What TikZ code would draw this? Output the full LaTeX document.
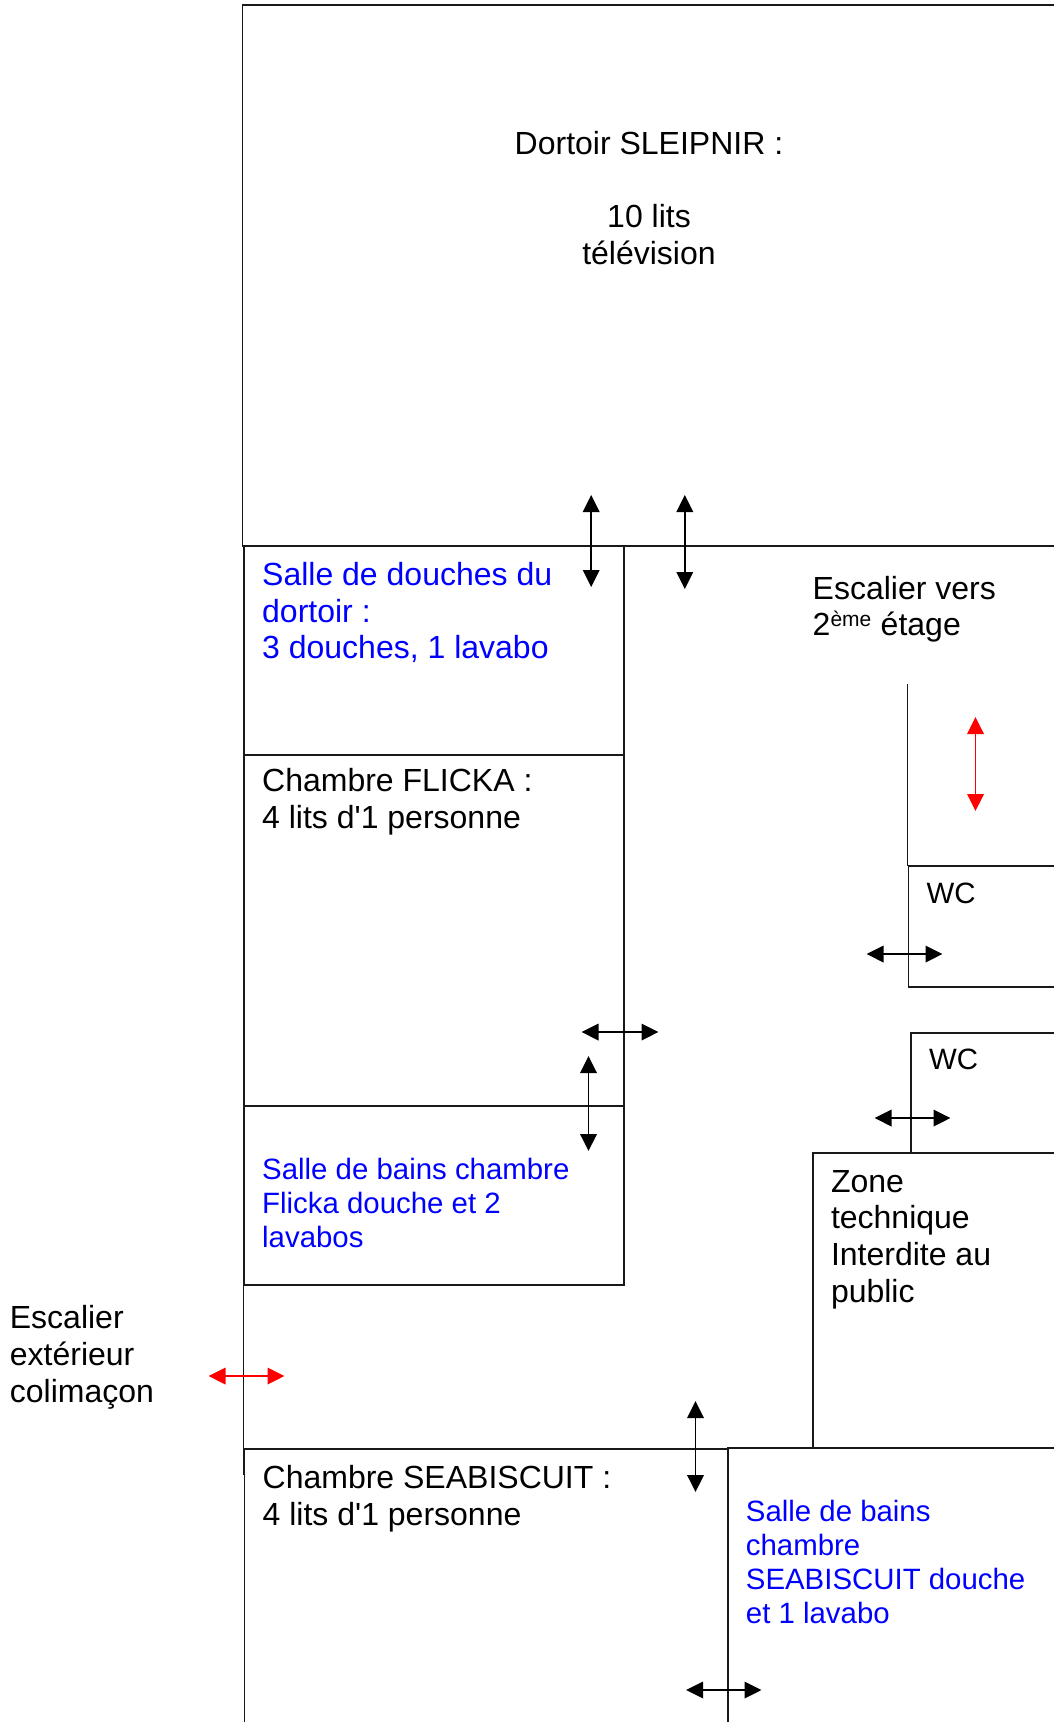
\documentclass[tikz,border=0pt]{standalone}
\usepackage{fontspec}
\setmainfont{Liberation Sans}[Ligatures=TeXOff]
\usetikzlibrary{arrows.meta}
\definecolor{blueT}{RGB}{0,0,255}
\definecolor{redA}{RGB}{255,0,0}
\newcommand{\Tstrut}{\rule{0pt}{30pt}}
\tikzset{
  x=1pt,y=-1pt,
  wall/.style={draw=black!90,line width=1.4pt},
  big/.style={anchor=north west,inner sep=0pt,align=left,font=\fontsize{32}{36.6}\selectfont,text=black},
  bigblue/.style={big,text=blueT},
  small/.style={anchor=north west,inner sep=0pt,align=left,font=\fontsize{29.4}{34}\selectfont,text=black},
  smallblue/.style={small,text=blueT},
  door/.style={line width=1.9pt,draw=black,{Triangle[length=17pt,width=16.5pt]}-{Triangle[length=17pt,width=16.5pt]}},
  reddoor/.style={line width=1.9pt,draw=redA,{Triangle[length=17pt,width=16.5pt]}-{Triangle[length=17pt,width=16.5pt]}}
}
\begin{document}
\begin{tikzpicture}
\useasboundingbox (0,0) rectangle (1053,1722);
\begin{scope}[xshift=0.9pt]
% walls
\draw[wall] (1060,5) -- (241.8,5) -- (241.8,546) -- (1060,546);
\draw[wall] (243,546) -- (243,1285) -- (623,1285) -- (623,546);
\draw[wall] (243,755) -- (623,755);
\draw[wall] (243,1106) -- (623,1106);
\draw[wall] (242.7,1276) -- (242.7,1475);
\draw[wall] (243.7,1730) -- (243.7,1449) -- (727,1449);
\draw[wall] (727,1730) -- (727,1448) -- (1060,1448);
\draw[wall] (812,1448) -- (812,1153) -- (1060,1153);
\draw[wall] (910,1153) -- (910,1033) -- (1060,1033);
\draw[wall] (1060,866) -- (907.5,866) -- (907.5,987) -- (1060,987);
\draw[wall] (906.7,684) -- (906.7,866);
\end{scope}
% texts
\node[big,anchor=north,align=center] (dortoir) at (649,124) {\Tstrut Dortoir SLEIPNIR :\\[36.6pt]10 lits\\télévision};
\node[bigblue] (douches) at (262,555.3) {\Tstrut Salle de douches du\\dortoir :\\3 douches, 1 lavabo};
\node[big] (escalier) at (812.5,569) {\Tstrut Escalier vers\\2\textsuperscript{\fontsize{21}{21}\selectfont ème} étage};
\node[big] (flicka) at (262,761.3) {\Tstrut Chambre FLICKA :\\4 lits d'1 personne};
\node[smallblue] (bainsf) at (262,1149) {\Tstrut Salle de bains chambre\\Flicka douche et 2\\lavabos};
\node[big] (zone) at (830.8,1162) {\Tstrut Zone\\technique\\Interdite au\\public};
\node[small] (wca) at (926.5,873) {\Tstrut WC};
\node[small] (wcb) at (929,1039) {\Tstrut WC};
\node[big,font=\fontsize{32}{37.2}\selectfont] (seab) at (262.5,1458.3) {\Tstrut Chambre SEABISCUIT :\\4 lits d'1 personne};
\node[smallblue] (bainss) at (745.7,1491) {\Tstrut Salle de bains\\chambre\\SEABISCUIT douche\\et 1 lavabo};
\node[big] (ext) at (9.7,1298.6) {\Tstrut Escalier\\extérieur\\colimaçon};
% arrows
\begin{scope}[xshift=0.5pt]
\coordinate (a1) at (590.7,495); \coordinate (a2) at (590.7,587);
\coordinate (b1) at (684.3,495); \coordinate (b2) at (684.3,589);
\coordinate (c1) at (975,717); \coordinate (c2) at (975,811);
\coordinate (d1) at (866,954); \coordinate (d2) at (942,954);
\coordinate (e1) at (874,1118); \coordinate (e2) at (950,1118);
\coordinate (f1) at (581,1032); \coordinate (f2) at (658,1032);
\coordinate (g1) at (588,1056); \coordinate (g2) at (588,1151);
\coordinate (h1) at (208,1376); \coordinate (h2) at (284,1376);
\coordinate (i1) at (695,1401); \coordinate (i2) at (695,1492);
\coordinate (j1) at (685.6,1690); \coordinate (j2) at (761,1690);
\end{scope}
\draw[door] (a1) -- (a2);
\draw[door] (b1) -- (b2);
\draw[reddoor] (c1) -- (c2);
\draw[door] (d1) -- (d2);
\draw[door] (e1) -- (e2);
\draw[door] (f1) -- (f2);
\draw[door] (g1) -- (g2);
\draw[reddoor] (h1) -- (h2);
\draw[door] (i1) -- (i2);
\draw[door] (j1) -- (j2);
\end{tikzpicture}
\end{document}
